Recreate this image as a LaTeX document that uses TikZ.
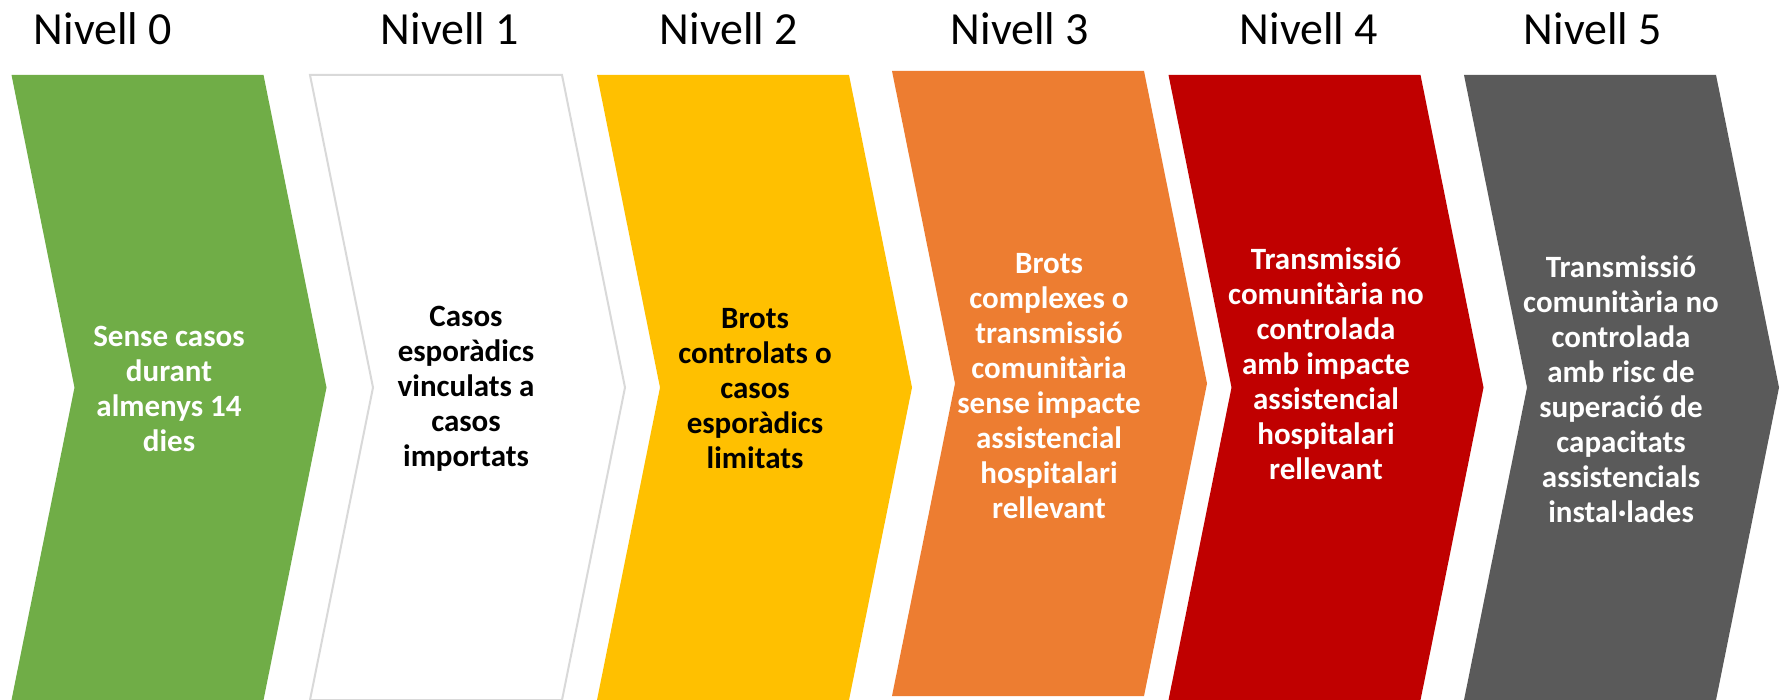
\documentclass[tikz,border=0pt]{standalone}
\usepackage{fontspec}
\setmainfont{Carlito}
\definecolor{cgreen}{HTML}{70AD47}
\definecolor{cyellow}{HTML}{FFC000}
\definecolor{corange}{HTML}{ED7D31}
\definecolor{cred}{HTML}{C00000}
\definecolor{cgray}{HTML}{5A5A5A}
\definecolor{cborder}{HTML}{D9D9D9}
\tikzset{
  lvl/.style={font=\fontsize{23}{27}\selectfont, anchor=base, inner sep=0pt},
  body/.style={font=\fontsize{15.5}{17.5}\selectfont\bfseries, align=center, inner sep=0pt},
}
\newcommand{\chevpath}[2]{% #1 = left x, #2 = y shift
  (#1,75+#2) -- ++(252,0) -- ++(63,312.5) -- ++(-63,312.5) -- ++(-252,0) -- ++(63,-312.5) -- cycle}
\begin{document}
\begin{tikzpicture}[x=0.5pt,y=-0.5pt]
\useasboundingbox (0,0) rectangle (1780,700);
\fill[white] (0,0) rectangle (1780,700);
% chevrons
\fill[cgreen] \chevpath{11.5}{0};
\draw[cborder, line width=1pt, fill=white] \chevpath{310}{0};
\fill[cyellow] \chevpath{597}{0};
\fill[corange] \chevpath{892}{-4};
\fill[cred] \chevpath{1168.5}{0};
\fill[cgray] \chevpath{1464}{0};
% level labels
\node[lvl] (l0) at (103,45) {Nivell 0};
\node[lvl] (l1) at (450,45) {Nivell 1};
\node[lvl] (l2) at (729,45) {Nivell 2};
\node[lvl] (l3) at (1020,45) {Nivell 3};
\node[lvl] (l4) at (1309,45) {Nivell 4};
\node[lvl] (l5) at (1593,45) {Nivell 5};
% body texts
\node[body, text=white] (t0) at (169,389) {Sense casos\\durant\\almenys 14\\dies};
\node[body, text=black] (t1) at (466,389) {Casos\\esporàdics\\vinculats a\\casos\\importats};
\node[body, text=black] (t2) at (755,389) {Brots\\controlats o\\casos\\esporàdics\\limitats};
\node[body, text=white] (t3) at (1049,386) {Brots\\complexes o\\transmissió\\comunitària\\sense impacte\\assistencial\\hospitalari\\rellevant};
\node[body, text=white] (t4) at (1326,364) {Transmissió\\comunitària no\\controlada\\amb impacte\\assistencial\\hospitalari\\rellevant};
\node[body, text=white] (t5) at (1621,389) {Transmissió\\comunitària no\\controlada\\amb risc de\\superació de\\capacitats\\assistencials\\instal·lades};
\end{tikzpicture}
\end{document}
